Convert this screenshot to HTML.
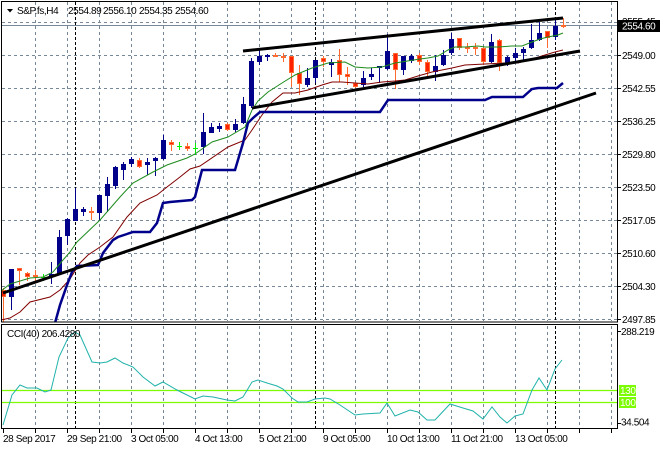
<!DOCTYPE html>
<html><head><meta charset="utf-8"><style>
body{margin:0;background:#fff}
svg{display:block}
text{font-family:"Liberation Sans",sans-serif;font-size:10px;letter-spacing:-0.4px;fill:#000}
.g{stroke:#778899;stroke-width:1;stroke-dasharray:3,3;fill:none}
.s{stroke:#000;stroke-width:1;stroke-dasharray:3,2;fill:none}
</style></head><body>
<svg width="660" height="450" viewBox="0 0 660 450" xmlns="http://www.w3.org/2000/svg">
<defs>
<clipPath id="cm"><rect x="1.5" y="1.5" width="616" height="320"/></clipPath>
<clipPath id="cc"><rect x="1.5" y="325" width="616" height="103.5"/></clipPath>
</defs>
<rect width="660" height="450" fill="#fff"/>

<!-- main grid horizontal -->
<path class="g" d="M2 22.5H617M2 55.5H617M2 88.5H617M2 121.5H617M2 154.5H617M2 187.5H617M2 220.5H617M2 253.5H617M2 286.5H617M2 319.5H617"/>
<!-- main grid vertical -->
<path class="g" d="M35.5 2V321M67.5 2V321M99.5 2V321M131.5 2V321M163.5 2V321M195.5 2V321M227.5 2V321M259.5 2V321M291.5 2V321M323.5 2V321M355.5 2V321M387.5 2V321M419.5 2V321M451.5 2V321M483.5 2V321M515.5 2V321M547.5 2V321M579.5 2V321M611.5 2V321"/>
<!-- CCI grid vertical -->
<path class="g" d="M35.5 326V428M67.5 326V428M99.5 326V428M131.5 326V428M163.5 326V428M195.5 326V428M227.5 326V428M259.5 326V428M291.5 326V428M323.5 326V428M355.5 326V428M387.5 326V428M419.5 326V428M451.5 326V428M483.5 326V428M515.5 326V428M547.5 326V428M579.5 326V428M611.5 326V428"/>
<!-- separators -->
<path class="s" d="M75.5 2V321M315.5 2V321M555.5 2V321M75.5 326V428M315.5 326V428M555.5 326V428"/>
<!-- price line -->
<path d="M2 25.5H617" stroke="#778899" stroke-width="1"/>

<g clip-path="url(#cm)">
<!-- blue wicks -->
<path stroke="#00008b" stroke-width="1" fill="none" d="M11.5 269V310M51.5 262V284M59.5 230V275M67.5 218V245M75.5 188V221M83.5 207V216M99.5 195V221M107.5 177V212M115.5 166V189M123.5 162V180M131.5 157V167M147.5 158V175M155.5 157V176M163.5 135V160M203.5 113V154M211.5 123V133M219.5 123V132M235.5 119V132M243.5 97V124M251.5 58V108M259.5 48V65M267.5 54V61M307.5 68V87M315.5 60V83M331.5 59V77M363.5 71V87M371.5 68V80M379.5 66V83M387.5 34V70M403.5 56V75M411.5 54V63M435.5 55V81M443.5 50V66M451.5 33V55M491.5 34V63M507.5 56V66M515.5 48V62M523.5 47V61M531.5 24V49M539.5 22V41M555.5 18V40"/>
<!-- blue bodies -->
<g fill="#00008b">
<rect x="9" y="269" width="5" height="28"/><rect x="49" y="274" width="5" height="2"/><rect x="57" y="237" width="5" height="37"/><rect x="65" y="219" width="5" height="17"/><rect x="73" y="209" width="5" height="12"/><rect x="81" y="209" width="5" height="3"/><rect x="97" y="195" width="5" height="18"/><rect x="105" y="184" width="5" height="12"/><rect x="113" y="167" width="5" height="19"/><rect x="121" y="164" width="5" height="6"/><rect x="129" y="159" width="5" height="5"/><rect x="145" y="162" width="5" height="3"/><rect x="153" y="158" width="5" height="3"/><rect x="161" y="140" width="5" height="19"/><rect x="201" y="132" width="5" height="15"/><rect x="209" y="127" width="5" height="6"/><rect x="217" y="126" width="5" height="3"/><rect x="233" y="124" width="5" height="6"/><rect x="241" y="104" width="5" height="19"/><rect x="249" y="61" width="5" height="45"/><rect x="257" y="56" width="5" height="6"/><rect x="265" y="55" width="5" height="2"/><rect x="305" y="78" width="5" height="7"/><rect x="313" y="60" width="5" height="18"/><rect x="329" y="62" width="5" height="3"/><rect x="361" y="78" width="5" height="7"/><rect x="369" y="74" width="5" height="3"/><rect x="377" y="66" width="5" height="2"/><rect x="385" y="51" width="5" height="18"/><rect x="401" y="56" width="5" height="14"/><rect x="409" y="56" width="5" height="5"/><rect x="433" y="66" width="5" height="6"/><rect x="441" y="55" width="5" height="10"/><rect x="449" y="39" width="5" height="14"/><rect x="489" y="42" width="5" height="20"/><rect x="505" y="57" width="5" height="6"/><rect x="513" y="53" width="5" height="5"/><rect x="521" y="49" width="5" height="4"/><rect x="529" y="40" width="5" height="8"/><rect x="537" y="33" width="5" height="7"/><rect x="553" y="26" width="5" height="11"/>
</g>
<!-- red wicks -->
<path stroke="#ff6a30" stroke-width="1" fill="none" d="M3.5 288V322M19.5 268V285M27.5 272V281M35.5 270V282M91.5 207V220M139.5 158V168M171.5 140V151M187.5 143V151M227.5 123V131M275.5 53V57M283.5 53V62M291.5 56V87M299.5 65V95M323.5 56V67M339.5 49V82M347.5 67V85M355.5 82V88M395.5 53V89M419.5 53V65M427.5 60V77M459.5 38V50M467.5 43V53M475.5 43V55M483.5 47V65M499.5 39V71M547.5 31V48M563.5 18V28"/>
<!-- red bodies -->
<g fill="#ff2200" stroke="#ff6a30" stroke-width="1">
<rect x="1.5" y="290.5" width="4" height="6"/><rect x="17.5" y="268.5" width="4" height="2"/><rect x="25.5" y="273.5" width="4" height="3"/><rect x="33.5" y="275.5" width="4" height="1"/><rect x="89.5" y="211.5" width="4" height="1"/><rect x="137.5" y="160.5" width="4" height="6"/><rect x="169.5" y="142.5" width="4" height="2"/><rect x="185.5" y="146.5" width="4" height="2"/><rect x="225.5" y="124.5" width="4" height="5"/><rect x="273.5" y="55.5" width="4" height="1"/><rect x="281.5" y="56.5" width="4" height="1"/><rect x="289.5" y="56.5" width="4" height="16"/><rect x="297.5" y="73.5" width="4" height="10"/><rect x="321.5" y="58.5" width="4" height="3"/><rect x="337.5" y="60.5" width="4" height="14"/><rect x="345.5" y="74.5" width="4" height="2"/><rect x="353.5" y="83.5" width="4" height="3"/><rect x="393.5" y="53.5" width="4" height="16"/><rect x="417.5" y="55.5" width="4" height="6"/><rect x="425.5" y="62.5" width="4" height="9"/><rect x="457.5" y="38.5" width="4" height="9"/><rect x="465.5" y="47.5" width="4" height="1"/><rect x="473.5" y="47.5" width="4" height="1"/><rect x="481.5" y="48.5" width="4" height="13"/><rect x="497.5" y="40.5" width="4" height="22"/><rect x="545.5" y="31.5" width="4" height="6"/><rect x="561.5" y="25.5" width="4" height="1"/>
</g>
<!-- doji -->
<path stroke="#00ee00" stroke-width="1" fill="none" d="M43.5 274V281M41 277.5H46M179.5 142V150M177 146.5H182M195.5 143V155M193 148.5H198"/>

<!-- MAs -->
<polyline fill="none" stroke="#1e8c1e" stroke-width="1" points="1,291 10,284 20,281 30,278 43,277 53,272 63,260 70,252 77,242 100,220 120,197 133,183 153,172 167,165 187,158 195,154 212,142 228,137 245,127 252,110 258,101 268,92 282,83 295,75 312,68 328,63 345,62 355,67 368,68 382,67 395,63 420,59 428,58 438,56 448,50 455,47 465,47 478,46 485,47 498,47 512,46 522,46 532,42 540,39 548,37 558,35 563,33"/>
<polyline fill="none" stroke="#800000" stroke-width="1" points="1,320 10,318 20,312 30,302 50,297 60,290 70,279 80,263 88,255 100,247 113,237 127,217 140,203 157,195 167,187 180,177 190,169 200,166 228,147 245,140 252,130 262,115 272,102 283,93 295,93 308,90 322,85 332,82 342,82 355,83 368,84 382,82 395,81 405,80 418,76 432,72 452,68 465,65 485,64 505,63 518,63 532,59 545,55 555,52 563,50"/>
<polyline fill="none" stroke="#00008b" stroke-width="2.5" points="55,323 60,305 67,285 72,272 77,266 98,265 103,253 113,240 118,237 127,234 133,232 150,232 157,223 163,203 170,202 192,200 195,197 202,170 235,170 243,143 248,123 253,118 260,112 380,112 388,100 485,100 492,97 523,97 532,89 538,88 557,88 563,83"/>
<!-- trendlines -->
<g stroke="#000" stroke-width="3" fill="none">
<path d="M3 293L596 93"/>
<path d="M243 51L563 18"/>
<path d="M252 108L580 51"/>
</g>
</g>

<!-- CCI -->
<path d="M2 390.5H617M2 402.5H617" stroke="#7cfc00" stroke-width="1.3"/>
<g clip-path="url(#cc)">
<polyline fill="none" stroke="#20b2aa" stroke-width="1" points="3,425 12,395 20,385 27,388 37,388 45,392 51,390 59,357 68,338 75,332 80,335 92,362 100,363 107,362 115,358 123,363 133,367 143,377 155,386 163,382 177,390 187,395 195,399 203,396 213,397 227,400 235,401 243,397 252,382 258,380 267,383 277,386 283,389 292,398 298,402 307,402 315,399 325,398 330,399 340,405 355,415 363,414 380,413 387,403 395,416 410,410 418,412 427,420 435,420 450,404 463,408 473,411 483,419 492,407 500,417 507,423 515,416 523,414 532,390 539,378 547,390 555,369 562,360"/>
</g>

<!-- frames -->
<rect x="1.5" y="1.5" width="616" height="320.5" fill="none" stroke="#000" stroke-width="1"/>
<rect x="1.5" y="324.5" width="616" height="104" fill="none" stroke="#000" stroke-width="1"/>

<!-- right ticks -->
<path stroke="#000" stroke-width="1" d="M617 55.5H621M617 88.5H621M617 121.5H621M617 154.5H621M617 187.5H621M617 220.5H621M617 253.5H621M617 286.5H621M617 319.5H621M617 331.5H621M617 423.5H621"/>
<!-- bottom ticks -->
<path stroke="#000" stroke-width="1" d="M3.5 429V433M35.5 429V433M67.5 429V433M99.5 429V433M131.5 429V433M163.5 429V433M195.5 429V433M227.5 429V433M259.5 429V433M291.5 429V433M323.5 429V433M355.5 429V433M387.5 429V433M419.5 429V433M451.5 429V433M483.5 429V433M515.5 429V433M547.5 429V433M579.5 429V433M611.5 429V433"/>

<!-- right labels -->
<text x="622" y="25">2555.45</text>
<rect x="618" y="20" width="42" height="12" fill="#000"/>
<text x="622" y="29.5" style="fill:#fff">2554.60</text>
<text x="622" y="59">2549.00</text>
<text x="622" y="92">2542.55</text>
<text x="622" y="125">2536.25</text>
<text x="622" y="158">2529.80</text>
<text x="622" y="191">2523.50</text>
<text x="622" y="224">2517.05</text>
<text x="622" y="257">2510.60</text>
<text x="622" y="290">2504.30</text>
<text x="622" y="323">2497.85</text>

<text x="621" y="335">288.219</text>
<rect x="619" y="385" width="17" height="11" fill="#7cfc00"/>
<text x="620" y="394" style="fill:#fff">130</text>
<rect x="619" y="397" width="17" height="11" fill="#7cfc00"/>
<text x="620" y="406" style="fill:#fff">100</text>
<text x="621" y="425.5">34.504</text>

<!-- titles -->
<path d="M7 9H13L10 12.5Z" fill="#000"/>
<text x="17" y="14">S&amp;P.fs,H4</text>
<text x="68" y="14">2554.89</text>
<text x="103" y="14">2556.10</text>
<text x="139" y="14">2554.35</text>
<text x="175" y="14">2554.60</text>
<text x="7" y="337">CCI(40) 206.4280</text>

<!-- bottom labels -->
<text x="3" y="442">28 Sep 2017</text>
<text x="67" y="442">29 Sep 21:00</text>
<text x="131" y="442">3 Oct 05:00</text>
<text x="195" y="442">4 Oct 13:00</text>
<text x="259" y="442">5 Oct 21:00</text>
<text x="323" y="442">9 Oct 05:00</text>
<text x="387" y="442">10 Oct 13:00</text>
<text x="451" y="442">11 Oct 21:00</text>
<text x="515" y="442">13 Oct 05:00</text>
</svg>
</body></html>
